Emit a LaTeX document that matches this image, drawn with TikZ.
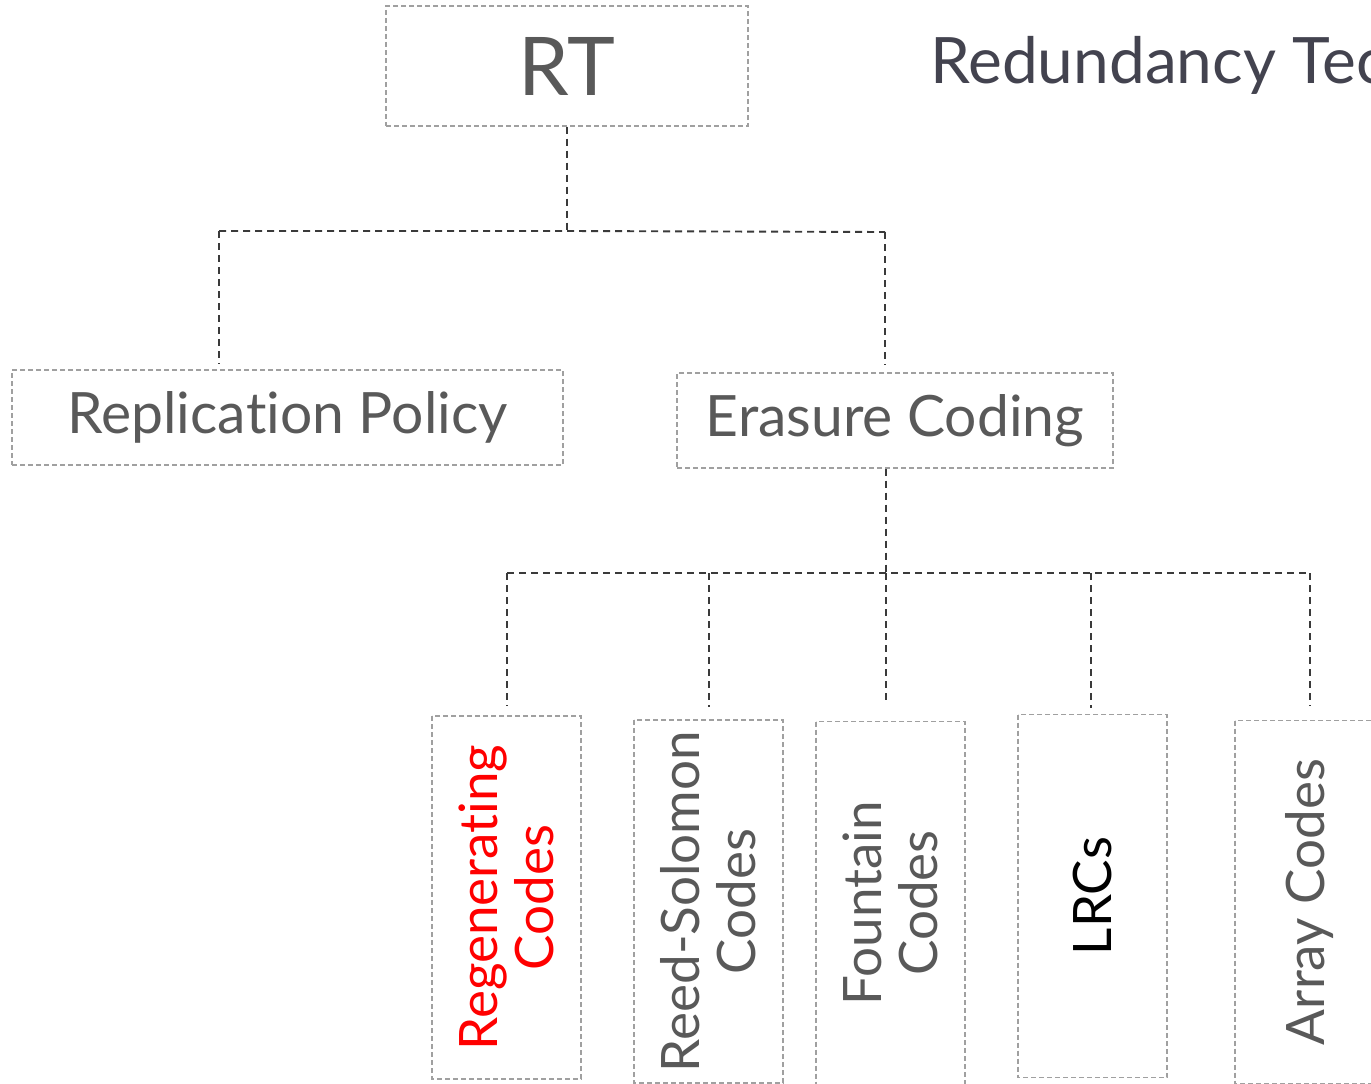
\documentclass[tikz,border=0pt]{standalone}
\usepackage{fontspec}
\setmainfont{Lato}[Ligatures={NoCommon,NoContextual,NoRequired,NoRare}]
\definecolor{txtgray}{HTML}{595959}
\definecolor{titlecol}{HTML}{43434F}
\definecolor{boxline}{HTML}{A0A0A0}
\definecolor{connline}{HTML}{3A3A3A}
\tikzset{
  box/.style={draw=boxline, line width=1.2pt, dash pattern=on 5pt off 3pt,
    rectangle, inner sep=0pt, align=center, text=txtgray},
  leaf/.style={box, rotate=90, minimum width=363pt, minimum height=149pt,
    font=\fontsize{53}{56}\selectfont},
  conn/.style={draw=connline, line width=1.9pt, dash pattern=on 7pt off 5pt}
}
\begin{document}
\begin{tikzpicture}[x=1pt,y=-1pt]
\clip (0,0) rectangle (1371,1084);
\fill[white] (0,0) rectangle (1371,1084);

% root and title
\node[box, minimum width=362pt, minimum height=120pt,
  font=\fontsize{81}{90}\selectfont] (rt) at (567,66) {RT};
\node[anchor=base west, text=titlecol, inner sep=0pt,
  font=\fontsize{64}{70}\selectfont] (title) at (930,83) {Redundancy Techniques};

% second level
\node[box, minimum width=551pt, minimum height=95pt,
  font=\fontsize{57}{60}\selectfont] (rp) at (287.5,417.5) {Replica\kern0pt tion Policy};
\node[box, minimum width=436pt, minimum height=95pt,
  font=\fontsize{57}{60}\selectfont] (ec) at (895,420.5) {Erasure Coding};

% leaves (text reads bottom to top)
\node[leaf, text=red] (rg) at (506.5,897.5) {Regenerating\\Codes};
\node[leaf] (rs) at (708.5,901.5) {Reed-Solomon\\Codes};
\node[leaf] (fc) at (890.5,903) {Fountain\\Codes};
\node[leaf, text=black] (lrc) at (1092.5,896) {LRCs};
\node[leaf] (ac) at (1309.5,902) {Array Codes};

% junction points
\coordinate (j1) at (567,231);
\coordinate (jl) at (219,231);
\coordinate (jr) at (885,232);
\coordinate (j2) at (886,573);
\coordinate (k1) at (507,573);
\coordinate (k2) at (709,573);
\coordinate (k3) at (886,573);
\coordinate (k4) at (1091,573);
\coordinate (k5) at (1310,573);

% connectors from root
\draw[conn] (rt.south) -- (j1);
\draw[conn] (jl) -- (j1) -- (jr);
\draw[conn, shorten >=5pt] (jl) -- (jl |- rp.north);
\draw[conn, shorten >=8pt] (jr) -- (jr |- ec.north);

% connectors from Erasure Coding
\draw[conn] (ec.south -| j2) -- (j2);
\draw[conn] (k1) -- (k5);
\draw[conn, shorten >=9pt] (k1) -- (k1 |- rg.east);
\draw[conn, shorten >=12pt] (k2) -- (k2 |- rs.east);
\draw[conn, shorten >=16pt] (k3) -- (k3 |- fc.east);
\draw[conn, shorten >=6pt] (k4) -- (k4 |- lrc.east);
\draw[conn, shorten >=14pt] (k5) -- (k5 |- ac.east);
\end{tikzpicture}
\end{document}
